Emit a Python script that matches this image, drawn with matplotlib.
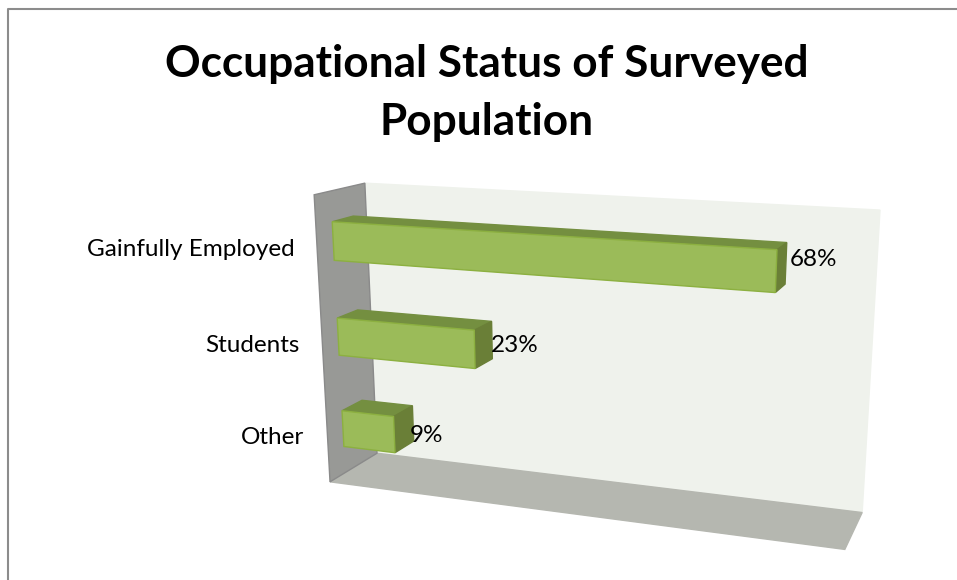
import matplotlib
matplotlib.use('Agg')
import matplotlib.pyplot as plt
from matplotlib.patches import Polygon
import numpy as np

categories = ['Gainfully Employed', 'Students', 'Other']
values = [68, 23, 9]
value_labels = ['68%', '23%', '9%']
axis_max = 80

plt.rcParams['font.family'] = ['Lato', 'DejaVu Sans']

# corners of the chart box (x, y, z) and where they land in the picture
box_corners = [(0, 0, 0), (0, 0, 1), (1, 0, 1), (0, 1, 1), (1, 1, 1), (0, 1, 0), (1, 1, 0)]
box_pixels = [(314, 195), (365, 183), (880, 210), (377, 453), (862, 513), (330, 482), (845, 549)]


def fit_camera(corners, pixels):
    rows = []
    for (x, y, z), (u, v) in zip(corners, pixels):
        rows.append([x, y, z, 1, 0, 0, 0, 0, -u * x, -u * y, -u * z, -u])
        rows.append([0, 0, 0, 0, x, y, z, 1, -v * x, -v * y, -v * z, -v])
    return np.linalg.svd(np.array(rows, dtype=float))[2][-1].reshape(3, 4)


camera = fit_camera(box_corners, box_pixels)


def project(x, y, z):
    u, v, w = camera @ np.array([x, y, z, 1.0])
    return u / w, v / w


fig = plt.figure(figsize=(9.57, 5.8), dpi=100)
ax = fig.add_axes([0, 0, 1, 1])
ax.set_xlim(0, 957)
ax.set_ylim(580, 0)
ax.axis('off')


def face(points, color, edge=None, order=2):
    ax.add_patch(Polygon([project(*p) for p in points], closed=True, facecolor=color,
                         edgecolor=edge if edge else color, linewidth=1, zorder=order))


# frame of the chart area
ax.plot([7.5, 7.5, 957], [580, 8.5, 8.5], color='#8c8c8c', linewidth=1.5)

# walls and floor
face([(0, 0, 1), (1, 0, 1), (1, 1, 1), (0, 1, 1)], '#eff2ec', order=1)
face([(0, 1, 0), (1, 1, 0), (1, 1, 1), (0, 1, 1)], '#b5b7b0', order=1)
face([(0, 0, 0), (0, 0, 1), (0, 1, 1), (0, 1, 0)], '#989996', edge='#8a8a8a', order=1)

# bars
half_height = 0.066
y_shift = 0.003
z_front, z_back = 0.31, 0.73
cat_y = [249, 346, 438]
label_x = [790, 491, 410]
label_y = [259, 346, 435]
for i, (cat, val, lab) in enumerate(zip(categories, values, value_labels)):
    x1 = val / axis_max
    y0 = (i + 0.5) / len(categories) - half_height + y_shift
    y1 = (i + 0.5) / len(categories) + half_height + y_shift
    face([(0, y0, z_back), (x1, y0, z_back), (x1, y0, z_front), (0, y0, z_front)], '#748f40')
    face([(x1, y0, z_front), (x1, y0, z_back), (x1, y1, z_back), (x1, y1, z_front)], '#6a7f37')
    face([(0, y0, z_front), (x1, y0, z_front), (x1, y1, z_front), (0, y1, z_front)], '#9bbb59', edge='#8cb040', order=3)

    left = project(0, (y0 + y1) / 2, z_front)
    ax.text(left[0] - 39, cat_y[i], cat, ha='right', va='center', fontsize=17.5, color='black', zorder=5)
    ax.text(label_x[i], label_y[i], lab, ha='left', va='center', fontsize=17.5, color='black', zorder=5)

ax.text(487, 64, 'Occupational Status of Surveyed', ha='center', va='center',
        fontsize=31.8, fontweight='bold', color='black')
ax.text(487, 122, 'Population', ha='center', va='center',
        fontsize=31.8, fontweight='bold', color='black')

fig.savefig('out.png', dpi=100)
